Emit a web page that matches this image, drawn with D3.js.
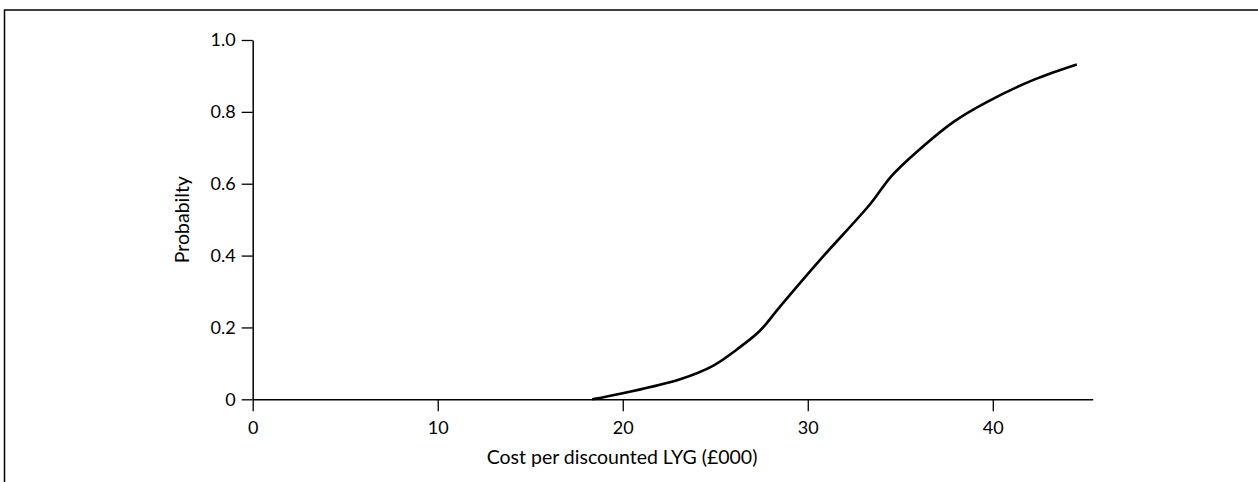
<!DOCTYPE html>
<html>
<head>
<meta charset="utf-8">
<script src="https://cdn.jsdelivr.net/npm/d3@7"></script>
<style>
  html, body { margin: 0; padding: 0; background: #fff; }
  svg { display: block; }
  text { font-family: Lato, "Open Sans", sans-serif; fill: #000; }
</style>
</head>
<body>
<script>
// values
const costs = [18.35, 20, 23.1, 24.9, 26.2, 27.4, 28.5, 30.7, 33.4, 34.5, 35.9, 37.9, 39.7, 42.2, 44.54]
const probs = [0, 0.017, 0.056, 0.094, 0.14, 0.19, 0.258, 0.39, 0.545, 0.62, 0.689, 0.773, 0.828, 0.889, 0.932]
const xTicks = [0, 10, 20, 30, 40]
const yTicks = [0, 0.2, 0.4, 0.6, 0.8, 1.0]
const xLabel = 'Cost per discounted LYG (£000)'
const yLabel = 'Probabilty'

const width = 1258, height = 482

const svg = d3.select('body').append('svg')
  .attr('width', width).attr('height', height)

// outer frame (right and bottom run off the picture)
svg.append('rect')
  .attr('x', 4.5).attr('y', 10)
  .attr('width', width + 20).attr('height', height + 20)
  .style('fill', 'none').style('stroke', '#000').style('stroke-width', 1.5)

const x = d3.scaleLinear().domain([0, 45.4]).range([252.7, 1092.7])
const y = d3.scaleLinear().domain([0, 1]).range([399.3, 40])

// axes
const xAxis = d3.axisBottom(x)
  .tickValues(xTicks).tickFormat(d3.format('d'))
  .tickSize(12).tickSizeOuter(0).tickPadding(10)

const yAxis = d3.axisLeft(y)
  .tickValues(yTicks).tickFormat(d => d === 0 ? '0' : d3.format('.1f')(d))
  .tickSize(11).tickSizeOuter(0).tickPadding(6)

const gx = svg.append('g')
  .attr('transform', `translate(0, ${y(0)})`)
  .call(xAxis)

const gy = svg.append('g')
  .attr('transform', `translate(${x(0)}, 0)`)
  .call(yAxis)

for (let g of [gx, gy]) {
  g.select('.domain').style('stroke', '#000').style('stroke-width', 1.5)
  g.selectAll('.tick line').style('stroke', '#000').style('stroke-width', 1.3)
  g.selectAll('.tick text')
    .style('font-size', '18px')
    .style('font-family', 'Lato, "Open Sans", sans-serif')
    .style('fill', '#000')
}

// axis titles
svg.append('text')
  .attr('x', 622).attr('y', 464)
  .style('text-anchor', 'middle').style('font-size', '19.5px')
  .text(xLabel)

svg.append('text')
  .attr('transform', `translate(189, ${y(0.5)}) rotate(-90)`)
  .style('text-anchor', 'middle').style('font-size', '19.5px')
  .text(yLabel)

// curve
const points = costs.map((c, i) => [c, probs[i]])
const line = d3.line()
  .x(d => x(d[0])).y(d => y(d[1]))
  .curve(d3.curveCatmullRom.alpha(0.5))

svg.append('path')
  .attr('d', line(points))
  .style('fill', 'none')
  .style('stroke', '#000')
  .style('stroke-width', 2.6)
</script>
</body>
</html>
